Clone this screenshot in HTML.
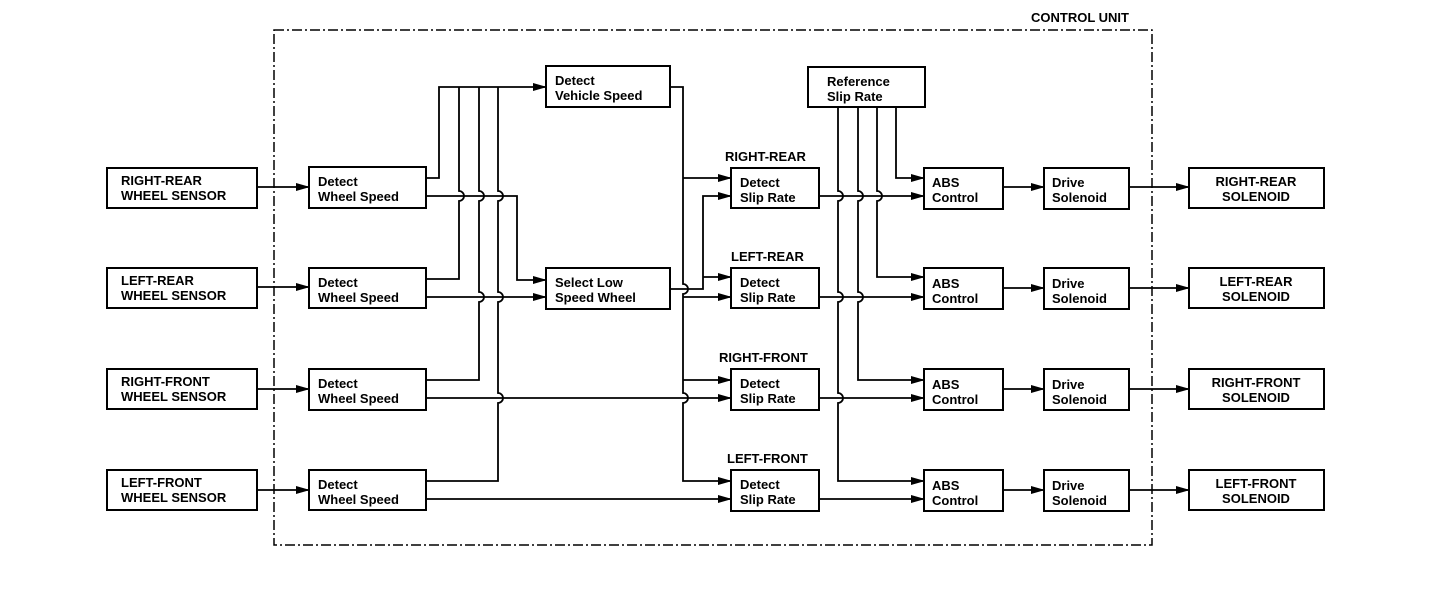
<!DOCTYPE html>
<html><head><meta charset="utf-8"><style>
html,body{margin:0;padding:0;background:#fff;}
svg{display:block;}
text{font-family:"Liberation Sans",sans-serif;font-weight:bold;font-size:13px;fill:#000;}
</style></head><body>
<svg width="1456" height="610" viewBox="0 0 1456 610" xmlns="http://www.w3.org/2000/svg">
<defs>
<marker id="a" markerWidth="14" markerHeight="10" refX="13" refY="5" orient="auto" markerUnits="userSpaceOnUse">
<path d="M0,1 L14,5 L0,9 z" fill="#000"/></marker>
</defs>
<rect x="274" y="30" width="878" height="515" fill="none" stroke="#000" stroke-width="1.5" stroke-dasharray="10,3,2,3"/>
<text x="1031" y="22">CONTROL UNIT</text>
<g fill="none" stroke="#000" stroke-width="2">
<!-- sensors -->
<rect x="107" y="168" width="150" height="40"/>
<rect x="107" y="268" width="150" height="40"/>
<rect x="107" y="369" width="150" height="40"/>
<rect x="107" y="470" width="150" height="40"/>
<!-- detect wheel speed -->
<rect x="309" y="167" width="117" height="41"/>
<rect x="309" y="268" width="117" height="40"/>
<rect x="309" y="369" width="117" height="41"/>
<rect x="309" y="470" width="117" height="40"/>
<rect x="546" y="66" width="124" height="41"/>
<rect x="546" y="268" width="124" height="41"/>
<rect x="731" y="168" width="88" height="40"/>
<rect x="731" y="268" width="88" height="40"/>
<rect x="731" y="369" width="88" height="41"/>
<rect x="731" y="470" width="88" height="41"/>
<rect x="808" y="67" width="117" height="40"/>
<rect x="924" y="168" width="79" height="41"/>
<rect x="924" y="268" width="79" height="41"/>
<rect x="924" y="369" width="79" height="41"/>
<rect x="924" y="470" width="79" height="41"/>
<rect x="1044" y="168" width="85" height="41"/>
<rect x="1044" y="268" width="85" height="41"/>
<rect x="1044" y="369" width="85" height="41"/>
<rect x="1044" y="470" width="85" height="41"/>
<rect x="1189" y="168" width="135" height="40"/>
<rect x="1189" y="268" width="135" height="40"/>
<rect x="1189" y="369" width="135" height="40"/>
<rect x="1189" y="470" width="135" height="40"/>
</g>
<g fill="none" stroke="#000" stroke-width="1.8">
<!-- sensor -> detect -->
<path d="M257,187 H309" marker-end="url(#a)"/>
<path d="M257,287 H309" marker-end="url(#a)"/>
<path d="M257,389 H309" marker-end="url(#a)"/>
<path d="M257,490 H309" marker-end="url(#a)"/>
<!-- upper outputs to vehicle speed -->
<path d="M426,178 H439 V87 H546" marker-end="url(#a)"/>
<path d="M426,279 H459 V201 A5,5 0 0 0 459,191 V87"/>
<path d="M426,380 H479 V302 A5,5 0 0 0 479,292 V201 A5,5 0 0 0 479,191 V87"/>
<path d="M426,481 H498 V403 A5,5 0 0 0 498,393 V302 A5,5 0 0 0 498,292 V201 A5,5 0 0 0 498,191 V87"/>
<!-- lower outputs -->
<path d="M426,196 H517 V280 H546" marker-end="url(#a)"/>
<path d="M426,297 H546" marker-end="url(#a)"/>
<path d="M426,398 H731" marker-end="url(#a)"/>
<path d="M426,499 H731" marker-end="url(#a)"/>
<!-- vehicle speed vertical -->
<path d="M670,87 H683 V284 A5,5 0 0 1 683,294 V393 A5,5 0 0 1 683,403 V481 H731" marker-end="url(#a)"/>
<path d="M683,178 H731" marker-end="url(#a)"/>
<path d="M683,297 H731" marker-end="url(#a)"/>
<path d="M683,380 H731" marker-end="url(#a)"/>
<!-- select low output -->
<path d="M670,289 H703 V196 H731" marker-end="url(#a)"/>
<path d="M703,277 H731" marker-end="url(#a)"/>
<!-- ref slip verticals -->
<path d="M896,107 V178 H924" marker-end="url(#a)"/>
<path d="M877,107 V191 A5,5 0 0 1 877,201 V277 H924" marker-end="url(#a)"/>
<path d="M858,107 V191 A5,5 0 0 1 858,201 V292 A5,5 0 0 1 858,302 V380 H924" marker-end="url(#a)"/>
<path d="M838,107 V191 A5,5 0 0 1 838,201 V292 A5,5 0 0 1 838,302 V393 A5,5 0 0 1 838,403 V481 H924" marker-end="url(#a)"/>
<!-- slip -> abs -->
<path d="M819,196 H924" marker-end="url(#a)"/>
<path d="M819,297 H924" marker-end="url(#a)"/>
<path d="M819,398 H924" marker-end="url(#a)"/>
<path d="M819,499 H924" marker-end="url(#a)"/>
<!-- abs -> drive -> solenoid -->
<path d="M1003,187 H1044" marker-end="url(#a)"/>
<path d="M1003,288 H1044" marker-end="url(#a)"/>
<path d="M1003,389 H1044" marker-end="url(#a)"/>
<path d="M1003,490 H1044" marker-end="url(#a)"/>
<path d="M1129,187 H1189" marker-end="url(#a)"/>
<path d="M1129,288 H1189" marker-end="url(#a)"/>
<path d="M1129,389 H1189" marker-end="url(#a)"/>
<path d="M1129,490 H1189" marker-end="url(#a)"/>
</g>
<g>
<text x="121" y="185">RIGHT-REAR</text><text x="121" y="200">WHEEL SENSOR</text>
<text x="121" y="285">LEFT-REAR</text><text x="121" y="300">WHEEL SENSOR</text>
<text x="121" y="386">RIGHT-FRONT</text><text x="121" y="401">WHEEL SENSOR</text>
<text x="121" y="487">LEFT-FRONT</text><text x="121" y="502">WHEEL SENSOR</text>
<text x="318" y="186">Detect</text><text x="318" y="201">Wheel Speed</text>
<text x="318" y="287">Detect</text><text x="318" y="302">Wheel Speed</text>
<text x="318" y="388">Detect</text><text x="318" y="403">Wheel Speed</text>
<text x="318" y="489">Detect</text><text x="318" y="504">Wheel Speed</text>
<text x="555" y="85">Detect</text><text x="555" y="100">Vehicle Speed</text>
<text x="555" y="287">Select Low</text><text x="555" y="302">Speed Wheel</text>
<text x="827" y="86">Reference</text><text x="827" y="101">Slip Rate</text>
<text x="725" y="161">RIGHT-REAR</text>
<text x="731" y="261">LEFT-REAR</text>
<text x="719" y="362">RIGHT-FRONT</text>
<text x="727" y="463">LEFT-FRONT</text>
<text x="740" y="187">Detect</text><text x="740" y="202">Slip Rate</text>
<text x="740" y="287">Detect</text><text x="740" y="302">Slip Rate</text>
<text x="740" y="388">Detect</text><text x="740" y="403">Slip Rate</text>
<text x="740" y="489">Detect</text><text x="740" y="504">Slip Rate</text>
<text x="932" y="187">ABS</text><text x="932" y="202">Control</text>
<text x="932" y="288">ABS</text><text x="932" y="303">Control</text>
<text x="932" y="389">ABS</text><text x="932" y="404">Control</text>
<text x="932" y="490">ABS</text><text x="932" y="505">Control</text>
<text x="1052" y="187">Drive</text><text x="1052" y="202">Solenoid</text>
<text x="1052" y="288">Drive</text><text x="1052" y="303">Solenoid</text>
<text x="1052" y="389">Drive</text><text x="1052" y="404">Solenoid</text>
<text x="1052" y="490">Drive</text><text x="1052" y="505">Solenoid</text>
<text x="1256" y="186" text-anchor="middle">RIGHT-REAR</text><text x="1256" y="201" text-anchor="middle">SOLENOID</text>
<text x="1256" y="286" text-anchor="middle">LEFT-REAR</text><text x="1256" y="301" text-anchor="middle">SOLENOID</text>
<text x="1256" y="387" text-anchor="middle">RIGHT-FRONT</text><text x="1256" y="402" text-anchor="middle">SOLENOID</text>
<text x="1256" y="488" text-anchor="middle">LEFT-FRONT</text><text x="1256" y="503" text-anchor="middle">SOLENOID</text>
</g>
</svg>
</body></html>
